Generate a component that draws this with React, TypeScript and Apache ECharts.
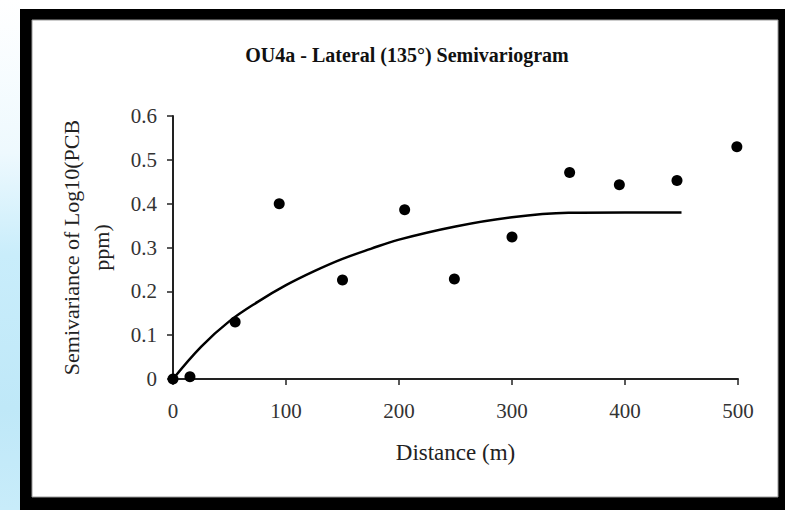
import React, { useEffect, useRef } from "react";
import * as echarts from "echarts";

// Experimental semivariogram: lag distance (m) vs semivariance
const lagDistance = [0, 15, 55, 94, 150, 205, 249, 300, 351, 395, 446, 499];
const semivariance = [0, 0.005, 0.13, 0.4, 0.226, 0.386, 0.228, 0.324, 0.471, 0.443, 0.453, 0.53];

// Fitted model curve
const modelLag = [0, 25, 50, 75, 100, 125, 150, 175, 200, 250, 300, 350, 400, 450];
const modelGamma = [0, 0.074, 0.132, 0.176, 0.214, 0.246, 0.274, 0.297, 0.318, 0.348, 0.369, 0.379, 0.38, 0.38];

const xTickLabels = ["0", "100", "200", "300", "400", "500"];
const yTickLabels = ["0", "0.1", "0.2", "0.3", "0.4", "0.5", "0.6"];

const titleText = "OU4a - Lateral (135°) Semivariogram";
const xName = "Distance (m)";
const yName = "Semivariance of Log10(PCB\nppm)";

const SERIF = "'Liberation Serif', 'Times New Roman', serif";

export default function App() {
  const ref = useRef<HTMLDivElement>(null);

  useEffect(() => {
    if (!ref.current) return;
    const chart = echarts.init(ref.current, undefined, { renderer: "svg" });

    const points = lagDistance.map((d, i) => [d, semivariance[i]]);
    const model = modelLag.map((d, i) => [d, modelGamma[i]]);

    chart.setOption({
      animation: false,
      backgroundColor: "#ffffff",
      graphic: [
        {
          type: "rect",
          z: -100,
          silent: true,
          shape: { x: 0, y: 0, width: 20, height: 510 },
          style: {
            fill: new echarts.graphic.LinearGradient(0, 0, 0, 1, [
              { offset: 0, color: "#ffffff" },
              { offset: 0.3, color: "#eef9fe" },
              { offset: 0.5, color: "#c9edfb" },
              { offset: 0.8, color: "#bfe8f8" },
              { offset: 1, color: "#c8ecfa" },
            ]),
          },
        },
        {
          type: "rect",
          z: -100,
          silent: true,
          shape: { x: 20, y: 9, width: 765, height: 501 },
          style: { fill: "#000000" },
        },
        {
          type: "rect",
          z: -99,
          silent: true,
          shape: { x: 32, y: 20, width: 746, height: 477 },
          style: { fill: "#ffffff", stroke: "#9a9a9a", lineWidth: 1 },
        },
      ],
      title: {
        text: titleText,
        left: 402,
        top: 40,
        textAlign: "center",
        textStyle: {
          fontFamily: SERIF,
          fontWeight: "bold",
          fontSize: 20,
          color: "#111111",
        },
      },
      grid: { left: 173, top: 116, width: 565, height: 263 },
      xAxis: {
        type: "value",
        min: 0,
        max: 500,
        interval: 100,
        name: xName,
        nameLocation: "middle",
        nameGap: 62,
        nameTextStyle: { fontFamily: SERIF, fontSize: 23, color: "#222222" },
        axisLine: { show: true, onZero: false, lineStyle: { color: "#222222", width: 2 } },
        axisTick: { show: true, length: 6, lineStyle: { color: "#222222", width: 1.5 } },
        splitLine: { show: false },
        axisLabel: {
          margin: 21,
          fontFamily: SERIF,
          fontSize: 21,
          color: "#333333",
          formatter: (_v: number, i: number) => xTickLabels[i],
        },
      },
      yAxis: {
        type: "value",
        min: 0,
        max: 0.6,
        interval: 0.1,
        name: yName,
        nameLocation: "middle",
        nameRotate: 90,
        nameGap: 57,
        nameTextStyle: { fontFamily: SERIF, fontSize: 22, lineHeight: 30, color: "#222222" },
        axisLine: { show: true, onZero: false, lineStyle: { color: "#222222", width: 2 } },
        axisTick: { show: true, length: 6, lineStyle: { color: "#222222", width: 1.5 } },
        splitLine: { show: false },
        axisLabel: {
          margin: 16,
          fontFamily: SERIF,
          fontSize: 21,
          color: "#333333",
          formatter: (_v: number, i: number) => yTickLabels[i],
        },
      },
      series: [
        {
          name: "Model",
          type: "line",
          data: model,
          smooth: 0.4,
          showSymbol: false,
          symbol: "none",
          lineStyle: { color: "#000000", width: 2.5 },
          z: 3,
        },
        {
          name: "Experimental",
          type: "scatter",
          data: points,
          symbol: "circle",
          symbolSize: 11,
          itemStyle: { color: "#000000", opacity: 1 },
          z: 4,
        },
      ],
    });

    return () => chart.dispose();
  }, []);

  return (
    <div
      ref={ref}
      style={{ position: "fixed", left: 0, top: 0, width: 785, height: 510 }}
    />
  );
}
